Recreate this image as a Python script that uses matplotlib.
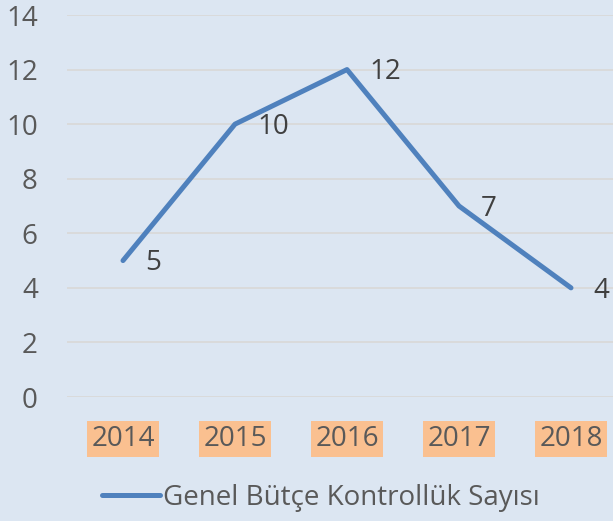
import matplotlib.pyplot as plt

yillar = ['2014', '2015', '2016', '2017', '2018']
sayilar = [5, 10, 12, 7, 4]
seri_adi = 'Genel Bütçe Kontrollük Sayısı'

plt.rcParams['font.family'] = ['Open Sans', 'DejaVu Sans']
bg = '#dce6f2'
metin = '#595959'

fig = plt.figure(figsize=(6.13, 5.21), dpi=100, facecolor=bg)
ax = fig.add_axes([67 / 613, 1 - 397 / 521, (613 - 67) / 613, (397 - 15) / 521])
ax.set_facecolor(bg)

x = range(len(yillar))
cizgi, = ax.plot(x, sayilar, color='#4f81bd', lw=3.6, solid_capstyle='round',
                 label=seri_adi, clip_on=False)
for xi, yi in zip(x, sayilar):
    ax.annotate(str(yi), (xi, yi), xytext=(16, -2), textcoords='offset points',
                ha='left', va='center', fontsize=20, color='#404040')

ax.set_xlim(-0.5, 4.375)
ax.set_ylim(0, 14)
ax.set_yticks(range(0, 15, 2))
ax.set_xticks(list(x))
ax.set_xticklabels(yillar)
ax.grid(axis='y', color='#d9d9d9', lw=1.3)
ax.set_axisbelow(True)
for s in ax.spines.values():
    s.set_visible(False)
ax.tick_params(length=0, labelsize=20, colors=metin)
ax.tick_params(axis='y', pad=21)
ax.tick_params(axis='x', pad=20)
for lbl in ax.get_xticklabels():
    lbl.set_bbox(dict(facecolor='#fac090', edgecolor='none', boxstyle='square,pad=0.15'))

fig.legend(handles=[cizgi], loc='center', bbox_to_anchor=(0.5 + 14 / 613, 1 - 498 / 521),
           frameon=False, fontsize=20, labelcolor=metin, handlelength=2.1,
           handletextpad=0.1)

fig.savefig('out.png', dpi=100, facecolor=bg)
